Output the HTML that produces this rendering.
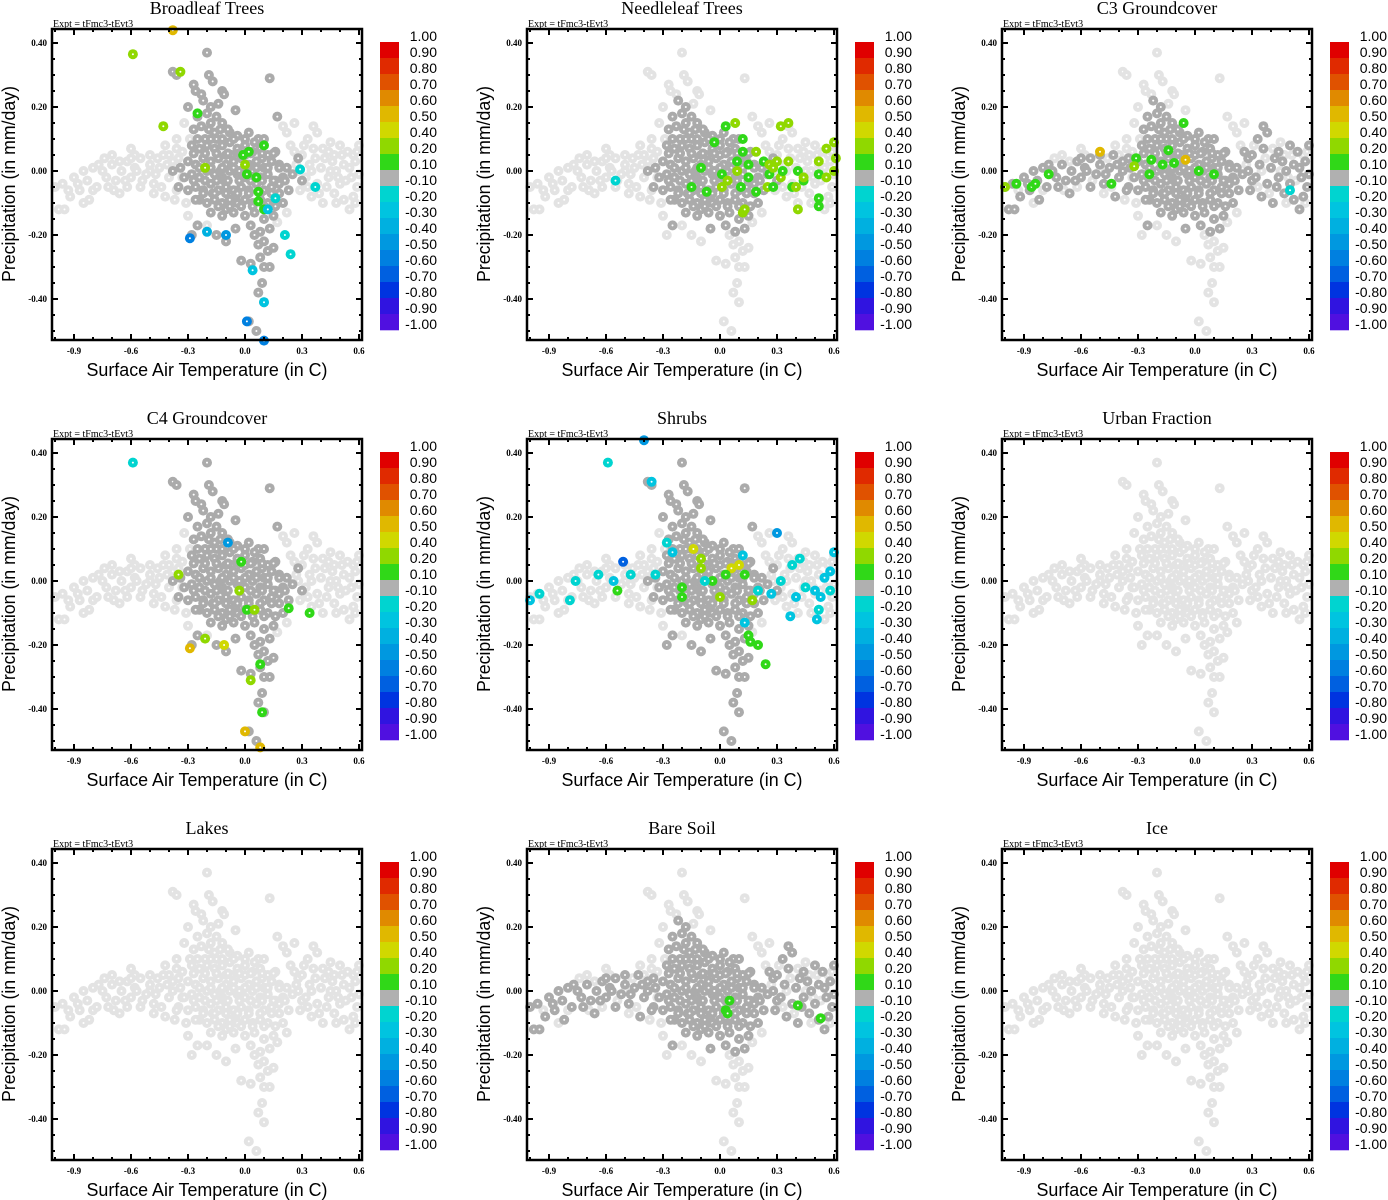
<!DOCTYPE html>
<html><head><meta charset="utf-8"><style>
html,body{margin:0;padding:0;background:#fff;}
svg{display:block;}
</style></head><body>
<svg id="chart" width="1388" height="1200" viewBox="0 0 1388 1200" xmlns="http://www.w3.org/2000/svg"></svg>
<script>
// ---- data ----
const panelTitles = ["Broadleaf Trees","Needleleaf Trees","C3 Groundcover","C4 Groundcover","Shrubs","Urban Fraction","Lakes","Bare Soil","Ice"];
const xTicks = [-0.9,-0.6,-0.3,0.0,0.3,0.6];
const xTickLabels = ["-0.9","-0.6","-0.3","0.0","0.3","0.6"];
const yTicks = [0.4,0.2,0.0,-0.2,-0.4];
const yTickLabels = ["0.40","0.20","0.00","-0.20","-0.40"];
const cbLabels = [1.0,0.9,0.8,0.7,0.6,0.5,0.4,0.2,0.1,-0.1,-0.2,-0.3,-0.4,-0.5,-0.6,-0.7,-0.8,-0.9,-1.0];
const cbColors = ["#e00000","#e02a00","#e05200","#e08a00","#e0b800","#d0d800","#90d800","#30d818","#b0b0b0","#00d4d0","#00c4e0","#00b0e0","#0098e0","#0080e0","#0060e0","#0034e0","#3014e0","#5010e0","#7010d8"];
const haloPts = [[-0.7,0.05],[-0.66,0.03],[-0.62,-0.05],[-0.58,0.05],[-0.54,-0.03],[-0.5,0.0],[-0.46,0.04],[-0.44,-0.05],[-0.4,0.05],[-0.37,-0.09],[-0.33,0.06],[-0.31,-0.1],[-0.29,0.1],[-0.33,-0.02],[-0.36,0.07],[0.24,0.08],[0.27,0.02],[0.31,0.08],[0.33,-0.05],[0.35,0.0],[0.37,0.04],[0.39,-0.07],[0.41,0.07],[0.45,0.0],[0.47,0.05],[0.49,-0.02],[0.51,0.05],[0.53,-0.03],[0.57,0.05],[0.22,0.12],[0.26,0.15],[0.2,0.14],[-0.32,0.15],[-0.3,-0.14],[0.22,-0.13],[-0.2,-0.17],[0.17,-0.16],[-0.36,0.1],[-0.42,0.08],[-0.48,-0.07],[-0.6,0.07],[-0.74,0.04],[-0.69,-0.06],[-0.8,-0.06],[-0.85,-0.1],[-0.93,-0.06],[0.59,0.06],[0.58,-0.1],[0.48,-0.1],[0.45,0.09]];
const corePts = [[-0.22,0.22],[-0.2,0.18],[-0.18,0.2],[-0.15,0.17],[-0.25,0.17],[-0.12,0.15],
[-0.27,0.13],[-0.23,0.14],[-0.19,0.13],[-0.16,0.12],[-0.13,0.13],[-0.08,0.12],[-0.04,0.11],[0.02,0.12],[0.07,0.1],[-0.21,0.1],
[-0.28,0.08],[-0.24,0.07],[-0.2,0.08],[-0.16,0.07],[-0.12,0.08],[-0.08,0.09],[-0.04,0.07],[0,0.08],[0.04,0.06],[0.08,0.07],[0.12,0.05],[0.16,0.06],[-0.1,0.05],
[-0.3,0.03],[-0.26,0.02],[-0.22,0.04],[-0.18,0.03],[-0.14,0.04],[-0.1,0.02],[-0.06,0.03],[-0.02,0.04],[0.02,0.02],[0.06,0.03],[0.1,0.01],[0.14,0.03],[0.18,0.02],[0.22,0.01],[-0.34,0.01],
[-0.32,-0.02],[-0.28,-0.01],[-0.24,-0.02],[-0.2,0],[-0.16,-0.01],[-0.12,-0.02],[-0.08,0],[-0.04,-0.01],[0,-0.02],[0.04,0],[0.08,-0.02],[0.12,-0.01],[0.16,-0.03],[0.2,-0.02],[0.25,-0.01],
[-0.3,-0.06],[-0.26,-0.05],[-0.22,-0.06],[-0.18,-0.04],[-0.14,-0.06],[-0.1,-0.05],[-0.06,-0.06],[-0.02,-0.05],[0.02,-0.06],[0.06,-0.04],[0.1,-0.06],[0.14,-0.05],[0.18,-0.07],[0.23,-0.06],
[-0.24,-0.09],[-0.2,-0.1],[-0.16,-0.09],[-0.12,-0.1],[-0.08,-0.09],[-0.04,-0.1],[0,-0.09],[0.04,-0.1],[0.08,-0.09],[0.12,-0.1],[0.16,-0.11],[0.2,-0.1],
[-0.18,-0.13],[-0.12,-0.14],[-0.06,-0.13],[0,-0.14],[0.05,-0.13],[0.1,-0.15],[0.15,-0.14],[-0.1,-0.12],
[-0.25,-0.17],[-0.05,-0.18],[0.03,-0.17],[0.08,-0.19],[0.13,-0.18],
[-0.15,0.1],[-0.07,0.05],[-0.11,-0.03],[-0.03,0.0],[0.03,-0.03],[-0.17,-0.07],[0.09,0.04],[-0.05,-0.08],[0.0,0.05],[-0.13,0.0],[-0.09,0.13],[0.05,0.09],[0.1,0.1],[-0.18,0.15],[-0.26,-0.09],[0.18,-0.04],[0.28,0.04],[0.3,-0.03],[-0.35,-0.05],[-0.38,0.0],
[-0.27,0.055],[-0.21,0.055],[-0.15,0.055],[-0.09,0.055],[-0.03,0.055],[0.03,0.055],[0.09,0.055],[0.15,0.055],
[-0.24,0.01],[-0.18,0.01],[-0.12,0.01],[-0.06,0.01],[0.0,0.01],[0.06,0.01],[0.12,0.01],[0.18,0.01],
[-0.27,-0.03],[-0.21,-0.03],[-0.15,-0.03],[-0.09,-0.03],[-0.03,-0.03],[0.03,-0.03],[0.09,-0.03],[0.15,-0.03],[0.21,-0.03],
[-0.22,-0.07],[-0.16,-0.07],[-0.1,-0.07],[-0.04,-0.07],[0.02,-0.07],[0.08,-0.07],[0.14,-0.07],
[-0.14,-0.11],[-0.08,-0.11],[-0.02,-0.11],[0.04,-0.11],[0.1,-0.11],
[-0.25,0.1],[-0.18,0.1],[-0.12,0.1],[-0.06,0.1],[0.0,0.1]];
const wingPts = [[-1.0,-0.05],[-0.98,-0.12],[-0.95,-0.12],[-0.96,-0.04],[-0.92,-0.08],[-0.9,-0.02],[-0.87,-0.06],[-0.85,0.0],[-0.83,-0.03],[-0.8,0.01],[-0.78,-0.05],[-0.75,0.0],[-0.73,-0.02],[-0.7,0.02],[-0.68,-0.03],[-0.65,0.0],[-0.62,0.03],[-0.6,-0.02],[-0.58,0.01],[-0.55,0.04],[-0.52,-0.01],[-0.5,0.02],[-0.48,-0.04],[-0.45,0.01],[-0.43,0.05],[-0.4,-0.02],[-0.38,0.03],[-0.36,-0.06],[-0.42,-0.08],[-0.55,-0.05],[-0.66,-0.07],[-0.72,-0.05],[-0.82,-0.09],[-0.5,0.05],[-0.35,0.04],[-0.47,-0.01],[-0.6,0.04],[-0.77,0.02],[-0.88,-0.04],[-0.63,-0.03],[-0.57,0.0],[-0.41,0.02],
[0.28,0.0],[0.3,0.05],[0.32,-0.02],[0.34,0.02],[0.36,0.07],[0.38,-0.04],[0.4,0.01],[0.42,0.04],[0.44,-0.02],[0.46,0.03],[0.48,0.0],[0.5,-0.04],[0.52,0.02],[0.54,0.06],[0.56,-0.02],[0.58,0.03],[0.6,0.08],[0.6,-0.01],[0.57,-0.08],[0.52,-0.09],[0.47,-0.07],[0.35,-0.08],[0.41,-0.1],[0.55,-0.12],[0.5,0.08],[0.44,0.06],[0.33,0.1],[0.38,0.12],[0.36,0.14],[0.29,-0.06],[0.26,0.06],[0.55,0.01],[0.43,-0.05],[0.59,-0.05]];
const tailPts = [[-0.2,0.37],[-0.38,0.31],[-0.36,0.3],[-0.27,0.27],[-0.26,0.25],[-0.17,0.28],[-0.12,0.25],[-0.11,0.24],[-0.05,0.19],[-0.3,0.2],[-0.23,0.24],[-0.19,0.3],[0.13,0.29],[-0.14,0.21],[0.17,0.17],
[0.05,-0.2],[0.1,-0.22],[0.12,-0.25],[0.08,-0.27],[0.03,-0.29],[0.13,-0.3],[0.1,-0.3],[-0.02,-0.28],[-0.15,-0.2],[0.09,-0.35],[0.07,-0.38],[0.1,-0.41],[-0.1,-0.22],[-0.28,-0.2],[0.02,-0.47],[0.06,-0.5],[0.15,-0.24],[0.07,-0.23]];
// per-panel shading of groups: [core, wing, tail] dark?
const darkCore = [1,1,1,1,1,0,0,1,0];
const darkWing = [0,0,1,0,0,0,0,1,0];
const darkTail = [1,0,0,1,1,0,0,0,0];
const colored1 = [[-0.38,0.44,0.5],[-0.59,0.365,0.2],[-0.34,0.31,0.2],[-0.43,0.14,0.2],[-0.25,0.18,0.1],[0.1,0.08,0.1],[0.02,0.06,0.1],[-0.01,0.05,0.1],[0.0,0.02,0.2],[-0.21,0.01,0.2],[0.01,-0.01,0.1],[0.06,-0.02,0.1],[0.07,-0.065,0.1],[0.07,-0.095,0.1],[0.1,-0.12,0.1],[0.29,0.005,-0.2],[0.37,-0.05,-0.2],[0.16,-0.085,-0.2],[0.12,-0.12,-0.3],[-0.29,-0.21,-0.6],[-0.2,-0.19,-0.4],[-0.1,-0.2,-0.5],[0.24,-0.26,-0.2],[0.21,-0.2,-0.2],[0.04,-0.31,-0.3],[0.1,-0.41,-0.3],[0.01,-0.47,-0.6],[0.1,-0.53,-0.6]];
const colored2 = [[0.03,0.14,0.1],[0.08,0.15,0.2],[-0.03,0.09,0.1],[-0.1,0.01,0.1],[-0.15,-0.05,0.1],[-0.07,-0.065,0.1],[0.01,-0.01,0.1],[0.09,0.03,0.1],[0.12,0.06,0.1],[0.15,0.02,0.1],[0.01,-0.05,0.2],[0.04,-0.03,0.2],[0.09,0.0,0.2],[0.11,-0.05,0.1],[0.15,-0.02,0.1],[0.19,-0.065,0.1],[0.19,0.06,0.2],[0.23,0.03,0.1],[0.26,0.02,0.2],[0.26,-0.01,0.1],[0.25,-0.05,0.2],[0.28,-0.05,0.1],[0.28,0.01,0.2],[0.3,0.03,0.2],[0.32,-0.02,0.2],[0.33,0.0,0.1],[0.36,0.15,0.2],[0.36,0.03,0.2],[0.38,-0.05,0.1],[0.4,-0.05,0.2],[0.41,-0.12,0.2],[0.41,0.0,0.1],[0.44,-0.03,0.1],[0.44,-0.02,0.2],[0.52,-0.01,0.1],[0.52,0.03,0.2],[0.52,-0.085,0.1],[0.52,-0.11,0.1],[0.56,0.07,0.2],[0.56,-0.02,0.2],[0.6,0.0,0.2],[0.6,0.09,0.2],[0.61,0.04,0.2],[0.12,-0.13,0.2],[0.13,-0.12,0.2],[-0.55,-0.03,-0.2],[0.12,0.1,0.1],[0.32,0.14,0.2]];
const colored3 = [[-1.0,-0.05,0.2],[-0.94,-0.04,0.1],[-0.86,-0.05,0.1],[-0.84,-0.04,0.1],[-0.77,-0.01,0.1],[-0.5,0.06,0.5],[-0.44,-0.04,0.1],[-0.31,0.04,0.1],[-0.32,0.015,0.2],[-0.24,-0.01,0.1],[-0.23,0.035,0.1],[-0.17,0.02,0.1],[-0.14,0.065,0.1],[-0.11,0.025,0.1],[-0.06,0.15,0.1],[-0.05,0.035,0.5],[0.02,0.0,0.1],[0.1,-0.01,0.1],[0.5,-0.06,-0.2]];
const colored4 = [[-0.59,0.37,-0.2],[-0.35,0.02,0.2],[-0.02,0.06,0.1],[-0.09,0.12,-0.5],[0.01,-0.09,0.1],[0.05,-0.09,0.2],[0.23,-0.085,0.1],[0.34,-0.1,0.1],[-0.21,-0.18,0.2],[-0.29,-0.21,0.5],[-0.11,-0.2,0.4],[0.08,-0.26,0.1],[0.03,-0.31,0.2],[0.09,-0.41,0.1],[0.0,-0.47,0.5],[0.08,-0.52,0.5],[-0.03,-0.03,0.2]];
const colored5 = [[-0.59,0.37,-0.2],[-0.36,0.31,-0.3],[-0.4,0.44,-0.5],[-0.51,0.06,-0.7],[-0.56,0.0,-0.3],[-0.64,0.02,-0.2],[-0.76,0.0,-0.2],[-0.95,-0.04,-0.2],[-1.0,-0.06,-0.3],[-0.79,-0.06,-0.2],[-0.54,-0.03,0.1],[-0.47,0.02,-0.2],[-0.34,0.02,-0.2],[-0.14,0.1,0.4],[-0.1,0.07,0.3],[-0.1,0.04,0.2],[0.06,0.04,0.4],[0.1,0.05,0.4],[0.03,0.02,0.1],[-0.04,0.0,0.1],[0.13,0.02,0.1],[-0.2,-0.02,0.1],[0.17,-0.06,0.2],[0.2,-0.03,-0.2],[0.12,0.08,-0.3],[0.3,0.15,-0.5],[0.38,0.05,-0.2],[0.42,0.07,-0.2],[0.45,-0.02,-0.2],[0.5,-0.03,-0.3],[0.53,-0.05,-0.3],[0.55,0.01,-0.3],[0.58,0.03,-0.3],[0.6,0.09,-0.3],[0.58,-0.03,-0.2],[0.52,-0.09,-0.2],[0.51,-0.12,-0.3],[0.4,-0.05,-0.3],[0.37,-0.11,-0.3],[0.27,-0.04,-0.3],[0.32,0.0,-0.2],[0.15,-0.17,0.1],[0.16,-0.19,0.1],[0.2,-0.2,0.1],[0.24,-0.26,0.1],[0.13,-0.13,-0.3],[-0.08,0.0,-0.2],[-0.25,0.09,-0.3],[-0.28,0.12,-0.2],[-0.2,-0.05,0.1],[0.0,-0.05,0.2]];
const colored8 = [[0.05,-0.03,0.1],[0.03,-0.06,0.1],[0.04,-0.07,0.1],[0.41,-0.045,0.1],[0.53,-0.085,0.1]];
const coloredSets = [colored1,colored2,colored3,colored4,colored5,[],[],colored8,[]];

// ---- drawing ----
const NS = "http://www.w3.org/2000/svg";
const svg = document.getElementById("chart");
const X0=52, X1=362, Y0=29, Y1=340;
function sx(v){ return 74 + (v + 0.9) * 190; }
function sy(v){ return 171 - v * 320; }
function mk(tag, attrs, parent){ const e=document.createElementNS(NS,tag); for(const k in attrs) e.setAttribute(k,attrs[k]); (parent||svg).appendChild(e); return e; }
function colorFor(v){
  for(let i=0;i<cbLabels.length-1;i++){ if(cbLabels[i+1] <= v && v < cbLabels[i]) return cbColors[i]; }
  return v>=1?cbColors[0]:cbColors[cbColors.length-1];
}
const LIGHT="#e3e3e3", DARK="#ababab";

panelTitles.forEach((title, p) => {
  const dx = (p%3)*475, dy = Math.floor(p/3)*410;
  const g = mk("g",{transform:`translate(${dx},${dy})`});
  
  
  const t = mk("text",{x:207,y:14,"text-anchor":"middle","font-family":"Liberation Serif, serif","font-size":"18"},g);
  t.textContent = title;
  
  
  const ex = mk("text",{x:53,y:27,"font-family":"Liberation Serif, serif","font-size":"10"},g);
  ex.textContent = "Expt = tFmc3-tEvt3";
  
  

  // points
  const pg = mk("g",{},g);
  
  
  function dot(x,y,col){
    const c = mk("circle",{cx:sx(x).toFixed(1),cy:sy(y).toFixed(1),r:5,fill:col},pg);
    
    
    mk("circle",{cx:sx(x).toFixed(1),cy:sy(y).toFixed(1),r:1,fill:"#fff"},pg);
  }
  haloPts.forEach(pt=>dot(pt[0],pt[1],LIGHT));
  const groups=[[corePts,darkCore[p]],[wingPts,darkWing[p]],[tailPts,darkTail[p]]];
  groups.filter(gr=>!gr[1]).forEach(gr=>gr[0].forEach(pt=>dot(pt[0],pt[1],LIGHT)));
  groups.filter(gr=>gr[1]).forEach(gr=>gr[0].forEach(pt=>dot(pt[0],pt[1],DARK)));
  coloredSets[p].forEach(pt=>dot(pt[0],pt[1],colorFor(pt[2])));

  // ticks
  for(let v=-1.0; v<=0.61; v+=0.1){
    const len = xTicks.some(t=>Math.abs(t-v)<1e-6)?6:3;
    const px=sx(v);
    if(px<X0||px>X1) continue;
    mk("line",{x1:px,x2:px,y1:Y1,y2:Y1-len,stroke:"#000","stroke-width":2},g);
    mk("line",{x1:px,x2:px,y1:Y0,y2:Y0+len,stroke:"#000","stroke-width":2},g);
  }
  for(let v=-0.5; v<=0.441; v+=0.05){
    const len = yTicks.some(t=>Math.abs(t-v)<1e-6)?6:3;
    const py=sy(v);
    mk("line",{x1:X0,x2:X0+len,y1:py,y2:py,stroke:"#000","stroke-width":2},g);
    mk("line",{x1:X1,x2:X1-len,y1:py,y2:py,stroke:"#000","stroke-width":2},g);
  }
  const fr = mk("rect",{x:X0,y:Y0,width:X1-X0,height:Y1-Y0,fill:"none",stroke:"#000","stroke-width":2.5},g);
  
  
  xTicks.forEach((v,i)=>{
    const tl = mk("text",{x:sx(v),y:354,"text-anchor":"middle","font-family":"Liberation Serif, serif","font-size":"9","font-weight":"bold"},g);
    tl.textContent = xTickLabels[i];
    
    
  });
  yTicks.forEach((v,i)=>{
    const tl = mk("text",{x:47,y:sy(v)+3,"text-anchor":"end","font-family":"Liberation Serif, serif","font-size":"9","font-weight":"bold"},g);
    tl.textContent = yTickLabels[i];
    
    
  });
  const xt = mk("text",{x:207,y:376,"text-anchor":"middle","font-family":"Liberation Sans, sans-serif","font-size":"18",textLength:241,lengthAdjust:"spacingAndGlyphs"},g);
  xt.textContent = "Surface Air Temperature (in C)";
  
  
  const yt = mk("text",{x:0,y:0,"text-anchor":"middle","font-family":"Liberation Sans, sans-serif","font-size":"18",textLength:196,lengthAdjust:"spacingAndGlyphs",transform:"translate(15,184) rotate(-90)"},g);
  yt.textContent = "Precipitation (in mm/day)";
  
  

  // colorbar
  const cb = mk("g",{},g);
  
  
  for(let i=0;i<cbLabels.length-1;i++){
    mk("rect",{x:380,y:42+16*i,width:19,height:16.3,fill:cbColors[i]},cb);
  }
  cbLabels.forEach((v,i)=>{
    const tl = mk("text",{x:437,y:41+16*i,"text-anchor":"end","font-family":"Liberation Sans, sans-serif","font-size":"14"},cb);
    tl.textContent = v.toFixed(2);
    
    
  });
});
</script>
</body></html>
